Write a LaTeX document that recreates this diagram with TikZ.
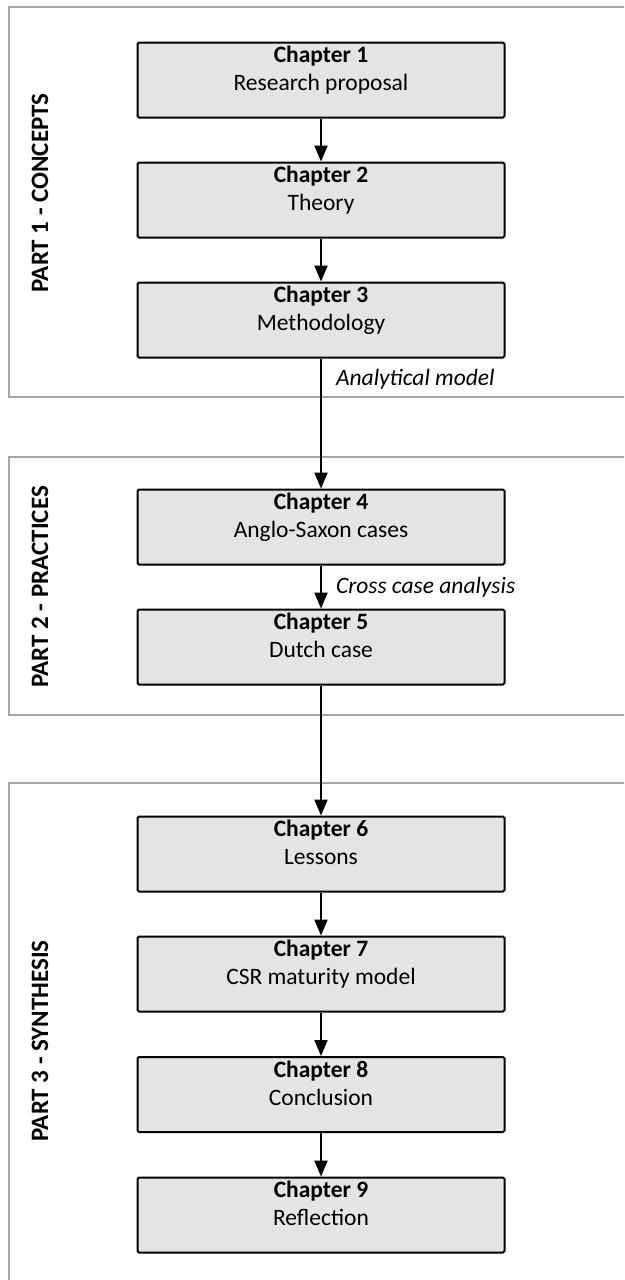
\documentclass[tikz,border=0pt]{standalone}
\usepackage{fontspec}
\setmainfont{Carlito}
\usetikzlibrary{arrows.meta}
\definecolor{chapfill}{HTML}{E4E4E4}
\definecolor{framegray}{HTML}{A6A6A6}
% two-line chapter box body: bold heading, then title
\newcommand\chapcontent[2]{\parbox[c][75pt][t]{367pt}{\centering\fontsize{23.5pt}{28pt}\selectfont\rule{0pt}{20pt}\textbf{#1}\\#2}}
\begin{document}
\begin{tikzpicture}[x=1pt,y=-1pt,
  chapter/.style={draw=black, line width=2pt, fill=chapfill, rounded corners=1.5pt, inner sep=0pt},
  partframe/.style={draw=framegray, line width=2pt},
  arr/.style={draw=black, line width=2pt, -{Triangle[length=16pt,width=13pt]}},
  parttext/.style={rotate=90, font=\fontsize{25pt}{30pt}\selectfont\bfseries, inner sep=0pt},
  edgetext/.style={font=\fontsize{23.5pt}{28pt}\selectfont\itshape, anchor=base west, inner sep=0pt, xshift=14pt}]
\clip (0,0) rectangle (624,1280);
\fill[white] (0,0) rectangle (624,1280);

% part frames (open to the right)
\draw[partframe] (9,7) rectangle (700,397);
\draw[partframe] (9,457) rectangle (700,715);
\draw[partframe] (9,783) rectangle (700,1400);

% part titles
\node[parttext] (p1) at (40,193) {PART 1 - CONCEPTS};
\node[parttext] (p2) at (40,587) {PART 2 - PRACTICES};
\node[parttext] (p3) at (40,1041) {PART 3 - SYNTHESIS};

% chapters
\node[chapter] (c1) at (321,80)    {\chapcontent{Chapter 1}{Research proposal}};
\node[chapter] (c2) at (321,200)   {\chapcontent{Chapter 2}{Theory}};
\node[chapter] (c3) at (321,320)   {\chapcontent{Chapter 3}{Methodology}};
\node[chapter] (c4) at (321,527)   {\chapcontent{Chapter 4}{Anglo-Saxon cases}};
\node[chapter] (c5) at (321,647)   {\chapcontent{Chapter 5}{Dutch case}};
\node[chapter] (c6) at (321,854)   {\chapcontent{Chapter 6}{Lessons}};
\node[chapter] (c7) at (321,974)   {\chapcontent{Chapter 7}{CSR maturity model}};
\node[chapter] (c8) at (321,1094.5){\chapcontent{Chapter 8}{Conclusion}};
\node[chapter] (c9) at (321,1215)  {\chapcontent{Chapter 9}{Reflection}};

% flow
\draw[arr] (c1) -- (c2);
\draw[arr] (c2) -- (c3);
\draw[arr] (c3) -- (c4) node[edgetext, pos=0.21] {Analytical model};
\draw[arr] (c4) -- (c5) node[edgetext, pos=0.66] {Cross case analysis};
\draw[arr] (c5) -- (c6);
\draw[arr] (c6) -- (c7);
\draw[arr] (c7) -- (c8);
\draw[arr] (c8) -- (c9);
\end{tikzpicture}
\end{document}
